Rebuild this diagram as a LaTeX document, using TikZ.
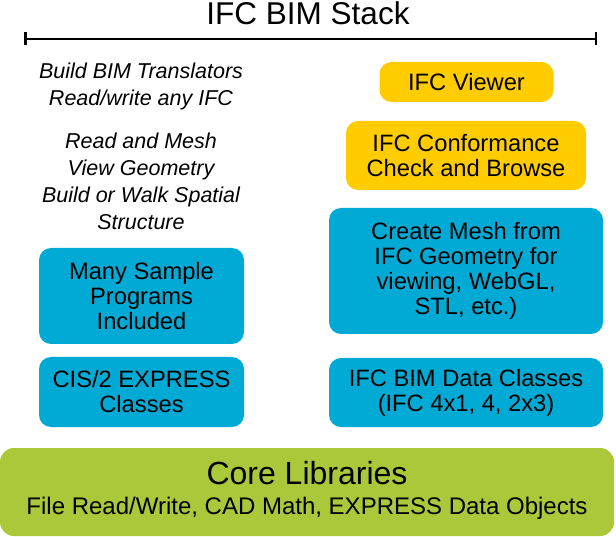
\documentclass[tikz,border=0pt]{standalone}
\usepackage{fontspec}
\setmainfont{Liberation Sans}
\usepackage{tikz}
\usetikzlibrary{shapes, calc, arrows.meta}

\definecolor{ifcyellow}{HTML}{FFCC00}
\definecolor{ifcblue}{HTML}{00AAD4}
\definecolor{ifcgreen}{HTML}{AAC83A}

\tikzset{
    layer/.style={rounded corners=12pt, inner sep=0pt, align=center,
        font=\fontsize{23.7}{25}\selectfont},
    toolbox/.style={layer, fill=ifcyellow},
    classbox/.style={layer, fill=ifcblue},
    corebox/.style={layer, fill=ifcgreen, rounded corners=14pt},
    usage/.style={align=center, inner sep=0pt, font=\fontsize{21.5}{27}\selectfont\itshape}
}

\begin{document}
\begin{tikzpicture}[x=1pt, y=-1pt]
        \useasboundingbox (0,0) rectangle (616,537);

        \node[font=\fontsize{31.5}{33}\selectfont, inner sep=0pt] (title) at (308,13.5) {IFC BIM Stack};
        \coordinate (barL) at (24,39);
        \coordinate (barR) at (597,39);
        \draw[line width=2.5pt, {Bar[width=13pt]}-{Bar[width=13pt]}] (barL) -- (barR);

        \node[usage] (translate) at (141,86.5) {Build BIM Translators\\Read/write any IFC};
        \node[usage] (geometry) at (141,181.5) {Read and Mesh\\View Geometry\\Build or Walk Spatial\\Structure};

        \node[classbox, minimum width=205pt, minimum height=96pt] (samples) at (141.5,296) {Many Sample\\Programs\\Included};
        \node[classbox, minimum width=205pt, minimum height=70pt] (cis) at (141.5,392) {CIS/2 EXPRESS\\Classes};

        \node[toolbox, minimum width=174pt, minimum height=40pt] (viewer) at (466.5,82) {IFC Viewer};
        \node[toolbox, minimum width=240pt, minimum height=69pt] (check) at (466,155.5) {IFC Conformance\\Check and Browse};
        \node[classbox, minimum width=274pt, minimum height=126pt] (mesh) at (466,271) {Create Mesh from\\IFC Geometry for\\viewing, WebGL,\\STL, etc.)};
        \node[classbox, minimum width=274pt, minimum height=69pt] (data) at (466,392.5) {IFC BIM Data Classes\\(IFC 4x1, 4, 2x3)};

        \node[corebox, minimum width=614pt, minimum height=88pt] (core) at (307,492) {};
        \node[font=\fontsize{32}{34}\selectfont, inner sep=0pt] (coretitle) at (307,473) {Core Libraries};
        \node[font=\fontsize{24}{26}\selectfont, inner sep=0pt] (corelist) at (307,508) {File Read/Write, CAD Math, EXPRESS Data Objects};
    \end{tikzpicture}
\end{document}
